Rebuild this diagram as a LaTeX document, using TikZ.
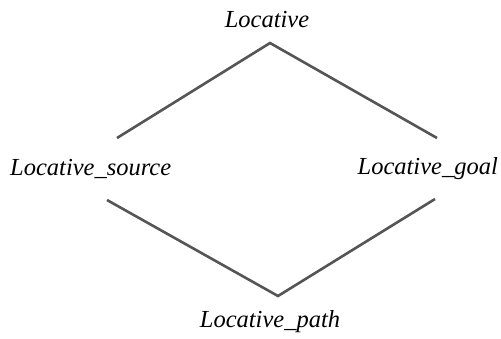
\documentclass[tikz,border=0pt]{standalone}
\usepackage{fontspec}
\setmainfont{Liberation Serif}
\definecolor{linegray}{HTML}{555555}
\begin{document}
\begin{tikzpicture}[x=1pt,y=-1pt,
  lbl/.style={inner sep=0pt,font=\fontsize{24.5}{28}\selectfont\itshape,text=black},
  conn/.style={draw=linegray,line width=2.6pt}]
\useasboundingbox (0,0) rectangle (501,338);
\node[lbl,anchor=base] (loc) at (267,27) {Locative};
\node[lbl,anchor=base west] (src) at (10,175) {Locative\_source};
\node[lbl,anchor=base east] (goal) at (498,174) {Locative\_goal};
\node[lbl,anchor=base] (path) at (270,327) {Locative\_path};
\coordinate (top) at (270,43);
\coordinate (srcup) at (117,138);
\coordinate (goalup) at (437,138);
\coordinate (srclow) at (107,200);
\coordinate (bot) at (278,296);
\coordinate (goallow) at (435,199);
\draw[conn] (srcup) -- (top) -- (goalup);
\draw[conn] (srclow) -- (bot) -- (goallow);
\end{tikzpicture}
\end{document}
